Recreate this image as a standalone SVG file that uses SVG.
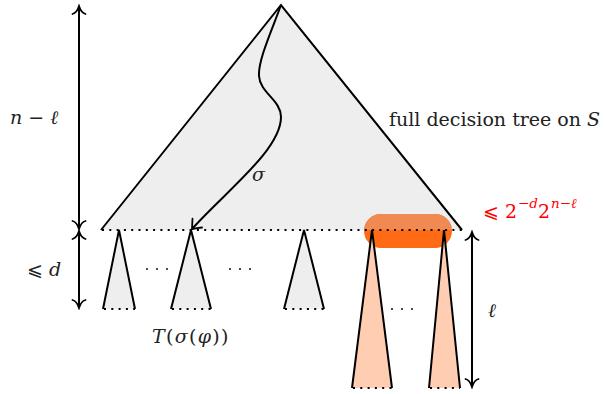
<svg xmlns="http://www.w3.org/2000/svg" width="605" height="394" viewBox="0 0 605 394">
<style>
.tri{stroke:#000;stroke-width:2;stroke-linejoin:miter;fill:none}
.gray{fill:#eeeeee;stroke:none}
.peach{fill:#ffcdb2;stroke:none}
.dot{stroke:#000;stroke-width:2;stroke-dasharray:2 5.3;fill:none}
.arr{stroke:#000;stroke-width:2;fill:none}
.head{stroke:#000;stroke-width:1.8;fill:none;stroke-linecap:round}
.lab{font-family:"DejaVu Serif",serif;font-size:19px;fill:#222}
.m{font-style:italic}
.red{fill:#ff0000}
.sup{font-size:13.5px}
</style>
<defs>
<marker id="ah" markerUnits="userSpaceOnUse" viewBox="-10 -10 12 20" refX="0" refY="0" markerWidth="12" markerHeight="20" orient="auto-start-reverse">
<path d="M-8,-6.5 C-7,-2.8 -2.2,-0.7 0,0 C-2.2,0.7 -7,2.8 -8,6.5" fill="none" stroke="#000" stroke-width="1.8" stroke-linecap="round"/>
</marker>
<clipPath id="rc"><rect x="364" y="214" width="88" height="34" rx="17"/></clipPath>
</defs>

<g id="main-tree">
<polygon class="gray" points="281,5 101,230 462,230"/>
</g>

<g id="highlight">
<rect x="364" y="214" width="88" height="34" rx="17" fill="#ff6a14"/>
<rect x="364" y="214" width="88" height="16" fill="#f08a52" clip-path="url(#rc)"/>
</g>

<g id="main-tree-edges">
<polyline class="tri" points="101,230 281,5 462,230"/>
<line class="dot" x1="102" y1="230" x2="462" y2="230"/>
</g>

<g id="subtree-1">
<polygon class="gray" points="119,230 103,309 135,309"/>
<polyline class="tri" points="103,309 119,230 135,309"/>
<line class="dot" x1="104" y1="309" x2="135" y2="309"/>
</g>
<g id="subtree-2">
<polygon class="gray" points="191,230 171,309 211,309"/>
<polyline class="tri" points="171,309 191,230 211,309"/>
<line class="dot" x1="172" y1="309" x2="211" y2="309"/>
</g>
<g id="subtree-3">
<polygon class="gray" points="304,230 284,309 324,309"/>
<polyline class="tri" points="284,309 304,230 324,309"/>
<line class="dot" x1="285" y1="309" x2="324" y2="309"/>
</g>
<g id="subtree-4">
<polygon class="peach" points="372,230 352,388 392,388"/>
<polyline class="tri" points="352,388 372,230 392,388"/>
<line class="dot" x1="353" y1="388" x2="392" y2="388"/>
</g>
<g id="subtree-5">
<polygon class="peach" points="444,230 429,388 460,388"/>
<polyline class="tri" points="429,388 444,230 460,388"/>
<line class="dot" x1="430" y1="388" x2="460" y2="388"/>
</g>

<g id="ellipses" fill="#222">
<circle cx="147" cy="269" r="1.1"/><circle cx="157" cy="269" r="1.1"/><circle cx="167" cy="269" r="1.1"/>
<circle cx="230" cy="269" r="1.1"/><circle cx="240" cy="269" r="1.1"/><circle cx="250" cy="269" r="1.1"/>
<circle cx="392" cy="309" r="1.1"/><circle cx="402" cy="309" r="1.1"/><circle cx="412" cy="309" r="1.1"/>
</g>

<g id="connectors">
<path class="arr" d="M281,5 C272,30 258,60 259,76 C260,93 281,100 281,117 C281,150 225,192 192,229"/>
<path class="head" d="M202,227.5 C199,227.8 194.5,228.5 192,229 C192.2,226.5 192.3,222 192.5,218.7"/>
<line class="arr" x1="79" y1="6" x2="79" y2="229" marker-start="url(#ah)" marker-end="url(#ah)"/>
<line class="arr" x1="79" y1="231" x2="79" y2="308" marker-start="url(#ah)" marker-end="url(#ah)"/>
<line class="arr" x1="472" y1="232" x2="472" y2="387" marker-start="url(#ah)" marker-end="url(#ah)"/>
</g>

<g id="labels">
<text class="lab" x="389" y="126">full decision tree on <tspan class="m">S</tspan></text>
<text class="lab" x="10" y="124"><tspan class="m">n</tspan> − <tspan class="m">ℓ</tspan></text>
<text class="lab" x="27" y="276">⩽ <tspan class="m">d</tspan></text>
<text class="lab m" x="252" y="181">σ</text>
<text class="lab m" x="488" y="317">ℓ</text>
<text class="lab" x="152" y="343" letter-spacing="1.3"><tspan class="m">T</tspan>(<tspan class="m">σ</tspan>(<tspan class="m">φ</tspan>))</text>
<text class="lab red" x="483" y="218">⩽</text>
<text class="lab red" x="505" y="218">2</text>
<text class="lab red sup" x="518" y="208">−<tspan class="m">d</tspan></text>
<text class="lab red" x="538" y="218">2</text>
<text class="lab red sup" x="551" y="208"><tspan class="m">n</tspan>−<tspan class="m">ℓ</tspan></text>
</g>
</svg>
